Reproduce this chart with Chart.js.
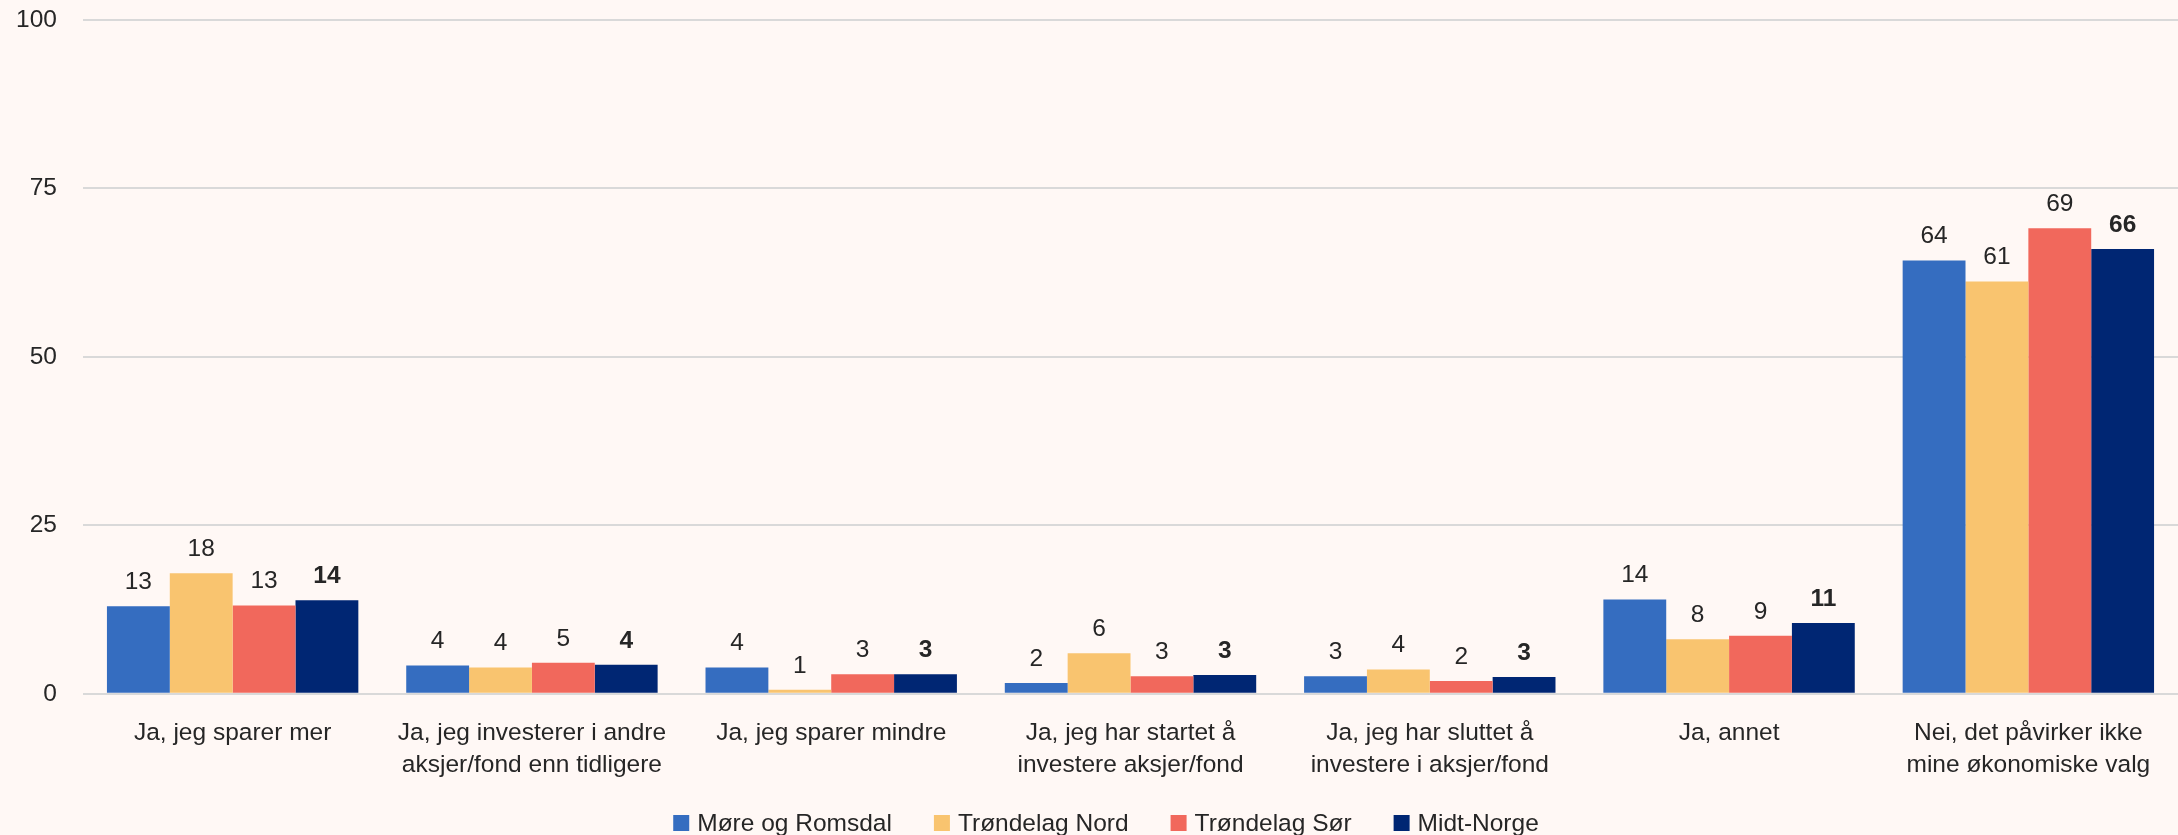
<!DOCTYPE html>
<html>
<head>
<meta charset="utf-8">
<script src="https://cdn.jsdelivr.net/npm/chart.js@4.4.0/dist/chart.umd.min.js"></script>
<style>
  html, body { margin: 0; padding: 0; background: #FFF8F5; }
  #wrap { width: 2178px; height: 835px; }
</style>
</head>
<body>
<div id="wrap"><canvas id="myChart" width="2178" height="835"></canvas></div>
<script>
var categories = [
    "Ja, jeg sparer mer",
    ["Ja, jeg investerer i andre", "aksjer/fond enn tidligere"],
    "Ja, jeg sparer mindre",
    ["Ja, jeg har startet å", "investere aksjer/fond"],
    ["Ja, jeg har sluttet å", "investere i aksjer/fond"],
    "Ja, annet",
    ["Nei, det påvirker ikke", "mine økonomiske valg"]
];
var seriesNames = ["Møre og Romsdal", "Trøndelag Nord", "Trøndelag Sør", "Midt-Norge"];
var moreRomsdal = [13.0, 4.2, 3.9, 1.6, 2.6, 14.0, 64.3];
var trondelagNord = [17.9, 3.9, 0.6, 6.0, 3.6, 8.1, 61.2];
var trondelagSor = [13.1, 4.6, 2.9, 2.6, 1.9, 8.6, 69.1];
var midtNorge = [13.9, 4.3, 2.9, 2.8, 2.5, 10.5, 66.0];
var yTicks = [0, 25, 50, 75, 100];

var colors = ['#356DC0', '#F9C46F', '#F1685C', '#002673'];
var fontFamily = "'Liberation Sans', Arial, sans-serif";
var fontSize = 24.5;
var textColor = '#262626';

// value labels above bars, Midt-Norge in bold
var valueLabels = {
    id: 'valueLabels',
    afterDatasetsDraw: function (chart) {
        var ctx = chart.ctx;
        ctx.save();
        ctx.fillStyle = textColor;
        ctx.textAlign = 'center';
        ctx.textBaseline = 'middle';
        chart.data.datasets.forEach(function (ds, i) {
            var meta = chart.getDatasetMeta(i);
            ctx.font = (i === 3 ? 'bold ' : '') + fontSize + 'px ' + fontFamily;
            meta.data.forEach(function (bar, j) {
                ctx.fillText(Math.round(ds.data[j]), bar.x, bar.y - 24);
            });
        });
        ctx.restore();
    }
};

// legend like the excel one: small square, short gap, text
var boxLegend = {
    id: 'boxLegend',
    afterDraw: function (chart) {
        var ctx = chart.ctx;
        var box = 16, gap = 8, between = 42;
        ctx.save();
        ctx.font = fontSize + 'px ' + fontFamily;
        var widths = chart.data.datasets.map(function (ds) { return ctx.measureText(ds.label).width; });
        var total = 0;
        widths.forEach(function (w) { total += box + gap + w; });
        total += between * (widths.length - 1);
        var x = 1106 - total / 2;
        var y = chart.height - 12;
        ctx.textBaseline = 'middle';
        ctx.textAlign = 'left';
        chart.data.datasets.forEach(function (ds, i) {
            ctx.fillStyle = ds.backgroundColor;
            ctx.fillRect(x, y - box / 2, box, box);
            ctx.fillStyle = textColor;
            ctx.fillText(ds.label, x + box + gap, y + 1);
            x += box + gap + widths[i] + between;
        });
        ctx.restore();
    }
};

var allData = [moreRomsdal, trondelagNord, trondelagSor, midtNorge];
var datasets = [];
for (var i = 0; i < seriesNames.length; i++) {
    datasets.push({
        label: seriesNames[i],
        data: allData[i],
        backgroundColor: colors[i],
        borderWidth: 0,
        categoryPercentage: 0.84,
        barPercentage: 1.0
    });
}

new Chart(document.getElementById('myChart'), {
    type: 'bar',
    data: { labels: categories, datasets: datasets },
    plugins: [valueLabels, boxLegend],
    options: {
        responsive: false,
        animation: false,
        layout: { padding: { top: 20, right: 0, left: 0, bottom: 29.5 } },
        plugins: {
            legend: { display: false },
            tooltip: { enabled: false }
        },
        scales: {
            x: {
                grid: { display: false, drawTicks: false },
                border: { display: false },
                ticks: {
                    color: textColor,
                    padding: 24,
                    maxRotation: 0,
                    autoSkip: false,
                    font: { family: fontFamily, size: fontSize, lineHeight: 1.3 }
                }
            },
            y: {
                min: 0,
                max: 100,
                afterFit: function (scale) {
                    scale.width = 83;
                    scale.paddingTop = 0;
                    scale.paddingBottom = 0;
                },
                afterBuildTicks: function (scale) {
                    scale.ticks = yTicks.map(function (v) { return { value: v }; });
                },
                grid: { color: '#D9D9D9', lineWidth: 2, drawTicks: false },
                border: { display: false },
                ticks: {
                    color: textColor,
                    padding: 26,
                    font: { family: fontFamily, size: fontSize }
                }
            }
        }
    }
});
</script>
</body>
</html>
